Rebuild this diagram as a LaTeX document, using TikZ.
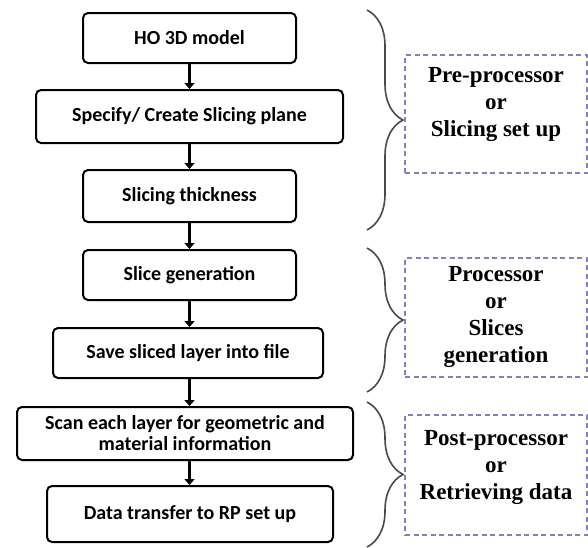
\documentclass[tikz,border=0pt]{standalone}
\usepackage{fontspec}
\setmainfont{Liberation Serif}
\newfontfamily\boxfont{Carlito}
\usetikzlibrary{arrows.meta,decorations.pathreplacing}
\definecolor{framepurple}{HTML}{8A7CB8}
\definecolor{bracegray}{HTML}{4A4A4A}
\tikzset{
  stepbox/.style={draw=black, line width=2pt, rounded corners=5pt,
    fill=white, align=center, inner sep=2pt,
    font=\boxfont\bfseries\fontsize{20}{22}\selectfont},
  flow/.style={line width=3.5pt, -{Triangle[length=6pt,width=10pt]}},
  groupbrace/.style={decorate, decoration={brace, amplitude=36pt},
    draw=bracegray, line width=1.6pt},
  stageframe/.style={draw=framepurple, line width=1.2pt, dash pattern=on 5pt off 3.5pt,
    inner sep=0pt, minimum width=182pt},
  stagetext/.style={align=center, inner sep=0pt,
    font=\bfseries\fontsize{23}{27}\selectfont},
}
\begin{document}
\begin{tikzpicture}[x=1pt, y=-1pt]
  \useasboundingbox (0,0) rectangle (588,547);
  % flow chart steps
  \node[stepbox, minimum width=213pt, minimum height=50pt] (s1) at (189.5,38) {HO 3D model};
  \node[stepbox, minimum width=307pt, minimum height=53pt] (s2) at (189.5,116.5) {Specify/ Create Slicing plane};
  \node[stepbox, minimum width=213pt, minimum height=52pt] (s3) at (189.5,196) {Slicing thickness};
  \node[stepbox, minimum width=213pt, minimum height=50pt] (s4) at (189.5,275) {Slice generation};
  \node[stepbox, minimum width=270pt, minimum height=50pt] (s5) at (188,353) {Save sliced layer into file};
  \node[stepbox, minimum width=336pt, minimum height=53pt] (s6) at (185,433.5) {Scan each layer for geometric and\\[-1pt] material information};
  \node[stepbox, minimum width=286pt, minimum height=56pt] (s7) at (190,514) {Data transfer to RP set up};
  % arrows between steps
  \foreach \a/\b in {s1/s2, s2/s3, s3/s4, s4/s5, s5/s6, s6/s7}
    \draw[flow] (\a.south -| 189.5,0) -- (\b.north -| 189.5,0);
  % stage braces
  \coordinate (b1t) at (367,10);  \coordinate (b1b) at (367,230);
  \coordinate (b2t) at (367,248); \coordinate (b2b) at (367,392);
  \coordinate (b3t) at (367,402); \coordinate (b3b) at (367,547);
  \draw[groupbrace] (b1t) -- (b1b);
  \draw[groupbrace] (b2t) -- (b2b);
  \draw[groupbrace] (b3t) -- (b3b);
  % stage frames and their labels
  \node[stageframe, minimum height=118pt] (p1) at (496,114) {};
  \node[stageframe, minimum height=119pt] (p2) at (496,317.5) {};
  \node[stageframe, minimum height=120pt] (p3) at (496,475) {};
  \node[stagetext] (t1) at ([yshift=9pt]p1.center) {Pre-processor\\or\\Slicing set up};
  \node[stagetext] (t2) at ([yshift=1pt]p2.center) {Processor\\or\\Slices\\generation};
  \node[stagetext] (t3) at ([yshift=8pt]p3.center) {Post-processor\\or\\Retrieving data};
\end{tikzpicture}
\end{document}
